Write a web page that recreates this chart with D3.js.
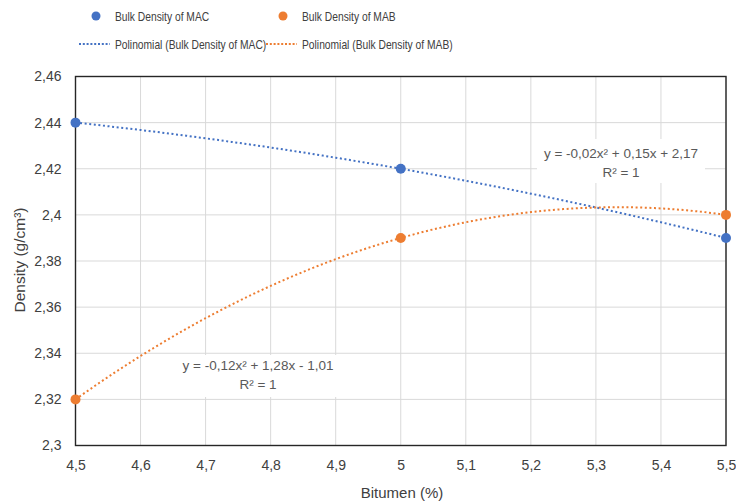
<!DOCTYPE html>
<html>
<head>
<meta charset="utf-8">
<script src="https://cdn.jsdelivr.net/npm/d3@7"></script>
<style>
body { margin: 0; background: #fff; }
svg text { font-family: "Liberation Sans", Arial, sans-serif; fill: #404040; }
</style>
</head>
<body>
<div id="chart"></div>
<script>
var bitumen = [4.5, 5, 5.5];
var densityMAC = [2.44, 2.42, 2.39];
var densityMAB = [2.32, 2.39, 2.40];
var xTicks = [4.5, 4.6, 4.7, 4.8, 4.9, 5, 5.1, 5.2, 5.3, 5.4, 5.5];
var yTicks = [2.3, 2.32, 2.34, 2.36, 2.38, 2.4, 2.42, 2.44, 2.46];
var eqMAC = ["y = -0,02x² + 0,15x + 2,17", "R² = 1"];
var eqMAB = ["y = -0,12x² + 1,28x - 1,01", "R² = 1"];

var W = 736, H = 502;
var m = {left: 75.5, right: 726, top: 76.5, bottom: 445.5};

var svg = d3.select("#chart").append("svg")
	.attr("width", W)
	.attr("height", H);

var x = d3.scaleLinear().domain([4.5, 5.5]).range([m.left, m.right]);
var y = d3.scaleLinear().domain([2.3, 2.46]).range([m.bottom, m.top]);

var fmt = function(v){ return d3.format("~g")(+v.toFixed(2)).replace(".", ","); };

// gridlines
svg.append("g")
	.selectAll("line").data(xTicks).enter().append("line")
	.attr("x1", function(d){ return x(d); }).attr("x2", function(d){ return x(d); })
	.attr("y1", m.top).attr("y2", m.bottom)
	.attr("stroke", "#d9d9d9").attr("stroke-width", 1);
svg.append("g")
	.selectAll("line").data(yTicks).enter().append("line")
	.attr("y1", function(d){ return y(d); }).attr("y2", function(d){ return y(d); })
	.attr("x1", m.left).attr("x2", m.right)
	.attr("stroke", "#d9d9d9").attr("stroke-width", 1);

// axes (labels only)
var xAxis = svg.append("g")
	.attr("transform", "translate(0," + m.bottom + ")")
	.call(d3.axisBottom(x).tickValues(xTicks).tickSize(0).tickPadding(15).tickFormat(fmt));
var yAxis = svg.append("g")
	.attr("transform", "translate(" + m.left + ",0)")
	.call(d3.axisLeft(y).tickValues(yTicks).tickSize(0).tickPadding(14).tickFormat(fmt));
[xAxis, yAxis].forEach(function(a){
	a.select(".domain").remove();
	a.selectAll("text").style("font-size", "14px").style("fill", "#404040")
		.style("font-family", "Liberation Sans, Arial, sans-serif");
});

// quadratic trendline through the points
function fitQuad(xs, ys){
	var x0 = xs[0], x1 = xs[1], x2 = xs[2];
	return function(t){
		return ys[0] * (t - x1) * (t - x2) / ((x0 - x1) * (x0 - x2)) +
			ys[1] * (t - x0) * (t - x2) / ((x1 - x0) * (x1 - x2)) +
			ys[2] * (t - x0) * (t - x1) / ((x2 - x0) * (x2 - x1));
	};
}

var line = d3.line().x(function(d){ return x(d[0]); }).y(function(d){ return y(d[1]); });
var samples = d3.range(0, 101).map(function(i){ return 4.5 + i / 100; });

var series = [
	{vals: densityMAC, color: "#4472c4"},
	{vals: densityMAB, color: "#ed7d31"}
];

series.forEach(function(s){
	var f = fitQuad(bitumen, s.vals);
	svg.append("path")
		.datum(samples.map(function(t){ return [t, f(t)]; }))
		.attr("d", line)
		.attr("fill", "none")
		.attr("stroke", s.color)
		.attr("stroke-width", 2)
		.attr("stroke-dasharray", "2,2.6");
});

// equation labels (white box hides the grid)
function eqLabel(lines, box, cx, base){
	var g = svg.append("g");
	g.append("rect")
		.attr("x", box[0]).attr("y", box[1])
		.attr("width", box[2] - box[0]).attr("height", box[3] - box[1])
		.attr("fill", "#fff");
	g.selectAll("text").data(lines).enter().append("text")
		.attr("x", cx).attr("y", function(d, i){ return base + i * 19; })
		.attr("text-anchor", "middle")
		.style("font-size", "13.5px")
		.style("fill", "#595959")
		.text(function(d){ return d; });
}
eqLabel(eqMAC, [537, 139, 705, 183], 621, 158);
eqLabel(eqMAB, [176, 355, 340, 397], 258, 370);

// plot border
svg.append("rect")
	.attr("x", m.left).attr("y", m.top)
	.attr("width", m.right - m.left).attr("height", m.bottom - m.top)
	.attr("fill", "none").attr("stroke", "#262626").attr("stroke-width", 1.4);

series.forEach(function(s){
	svg.append("g").selectAll("circle").data(s.vals).enter().append("circle")
		.attr("cx", function(d, i){ return x(bitumen[i]); })
		.attr("cy", function(d){ return y(d); })
		.attr("r", 5)
		.attr("fill", s.color);
});

// axis titles
svg.append("text")
	.attr("x", 402).attr("y", 498)
	.attr("text-anchor", "middle")
	.style("font-size", "15px")
	.text("Bitumen (%)");
svg.append("text")
	.attr("transform", "translate(25,260) rotate(-90)")
	.attr("text-anchor", "middle")
	.style("font-size", "15.5px")
	.text("Density (g/cm³)");

// legend
var legend = [
	{label: "Bulk Density of MAC", color: "#4472c4", type: "dot", x: 96, y: 16},
	{label: "Bulk Density of MAB", color: "#ed7d31", type: "dot", x: 283, y: 16},
	{label: "Polinomial (Bulk Density of MAC)", color: "#4472c4", type: "line", x: 96, y: 44},
	{label: "Polinomial (Bulk Density of MAB)", color: "#ed7d31", type: "line", x: 283, y: 44}
];
legend.forEach(function(l){
	if(l.type == "dot"){
		svg.append("circle").attr("cx", l.x).attr("cy", l.y).attr("r", 4.5).attr("fill", l.color);
	}else{
		svg.append("line")
			.attr("x1", l.x - 17).attr("x2", l.x + 14)
			.attr("y1", l.y).attr("y2", l.y)
			.attr("stroke", l.color).attr("stroke-width", 2)
			.attr("stroke-dasharray", "2,1.8");
	}
	var t = svg.append("text")
		.attr("x", l.x + 19).attr("y", l.y + 5)
		.style("font-size", "13px")
		.text(l.label);
	// narrow the text like the original condensed face
	var w = t.node().getComputedTextLength();
	t.attr("textLength", w * 0.79).attr("lengthAdjust", "spacingAndGlyphs");
});
</script>
</body>
</html>
